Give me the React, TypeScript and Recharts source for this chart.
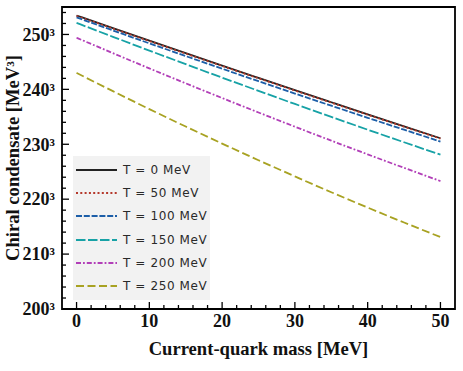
import { LineChart, Line, XAxis, YAxis, ReferenceArea } from "recharts";

// current-quark mass [MeV]
const masses = [0, 5, 10, 15, 20, 25, 30, 35, 40, 45, 50];

// cube root of the chiral condensate [MeV], one array per temperature
const t0 = [253.45, 251.15, 248.86, 246.59, 244.33, 242.09, 239.86, 237.65, 235.45, 233.27, 231.1];
const t50 = [253.38, 251.08, 248.79, 246.52, 244.26, 242.02, 239.79, 237.58, 235.38, 233.2, 231.03];
const t100 = [253.1, 250.73, 248.38, 246.06, 243.76, 241.49, 239.24, 237.02, 234.82, 232.65, 230.5];
const t150 = [252.1, 249.57, 247.06, 244.59, 242.14, 239.73, 237.34, 234.99, 232.66, 230.37, 228.1];
const t200 = [249.4, 246.59, 243.82, 241.1, 238.42, 235.79, 233.2, 230.66, 228.16, 225.71, 223.3];
const t250 = [243.0, 239.67, 236.41, 233.23, 230.13, 227.1, 224.15, 221.27, 218.47, 215.75, 213.1];

const xTicks = [0, 2, 4, 6, 8, 10, 12, 14, 16, 18, 20, 22, 24, 26, 28, 30, 32, 34, 36, 38, 40, 42, 44, 46, 48, 50];
const yTicks = [
  200, 202, 204, 206, 208, 210, 212, 214, 216, 218, 220, 222, 224, 226, 228, 230, 232, 234, 236, 238, 240, 242,
  244, 246, 248, 250, 252, 254,
];

const series = [
  { key: "t0", name: "T = 0 MeV", values: t0, color: "#222222", dash: undefined },
  { key: "t50", name: "T = 50 MeV", values: t50, color: "#b5392c", dash: "2 2.3" },
  { key: "t100", name: "T = 100 MeV", values: t100, color: "#1c5ea8", dash: "6 1.8" },
  { key: "t150", name: "T = 150 MeV", values: t150, color: "#17a2a6", dash: "9.5 2.5" },
  { key: "t200", name: "T = 200 MeV", values: t200, color: "#b23fb8", dash: "5 2 1.8 2" },
  { key: "t250", name: "T = 250 MeV", values: t250, color: "#a8a222", dash: "8 3.5" },
];

const data = masses.map((m, i) => {
  const row: Record<string, number> = { m };
  series.forEach((s) => {
    row[s.key] = s.values[i];
  });
  return row;
});

const serif = "'Liberation Serif', 'Times New Roman', serif";

function XTick({ x, y, payload }: any) {
  const major = payload.value % 10 === 0;
  return (
    <g>
      <line x1={x} x2={x} y1={y} y2={y - (major ? 7 : 4)} stroke="#000" strokeWidth={1.3} />
      {major && (
        <text x={x} y={y + 18} textAnchor="middle" fontFamily={serif} fontWeight="bold" fontSize={18} fill="#111">
          {payload.value}
        </text>
      )}
    </g>
  );
}

function YTick({ x, y, payload }: any) {
  const major = payload.value % 10 === 0;
  return (
    <g>
      <line x1={x} x2={x + (major ? 7 : 4)} y1={y} y2={y} stroke="#000" strokeWidth={1.3} />
      {major && (
        <text x={x - 7} y={y} dy="0.35em" textAnchor="end" fontFamily={serif} fontWeight="bold" fontSize={18} fill="#111">
          {payload.value}³
        </text>
      )}
    </g>
  );
}

function LegendBox() {
  return (
    <div
      style={{
        position: "absolute",
        left: 73,
        top: 156,
        width: 137,
        height: 144,
        background: "#f2f2f2",
        fontFamily: "'DejaVu Sans', sans-serif",
        fontSize: 12,
        letterSpacing: 0.6,
        color: "#2a2a2a",
      }}
    >
      {series.map((s, i) => (
        <div key={s.key} style={{ position: "absolute", left: 3, top: 4 + i * 23.2, height: 20, display: "flex", alignItems: "center" }}>
          <svg width={41} height={6} style={{ display: "block" }}>
            <line x1={0} x2={41} y1={3} y2={3} stroke={s.color} strokeWidth={2} strokeDasharray={s.dash} />
          </svg>
          <span style={{ marginLeft: 6, whiteSpace: "pre" }}>{s.name}</span>
        </div>
      ))}
    </div>
  );
}

export default function App() {
  return (
    <div style={{ position: "absolute", left: 0, top: 0, width: 463, height: 371, background: "#fff" }}>
      <LineChart width={463} height={371} data={data} margin={{ top: 7, right: 8, left: 0, bottom: 0 }}>
        <XAxis
          dataKey="m"
          type="number"
          domain={[-2, 52]}
          ticks={xTicks}
          interval={0}
          tickSize={0}
          tickMargin={0}
          tickLine={false}
          axisLine={false}
          tick={<XTick />}
          height={62}
          allowDataOverflow
          label={{
            value: "Current-quark mass [MeV]",
            position: "insideBottom",
            offset: 16,
            style: { fontFamily: serif, fontWeight: "bold", fontSize: 18.6, fill: "#111" },
          }}
        />
        <YAxis
          type="number"
          domain={[200, 255]}
          ticks={yTicks}
          interval={0}
          tickSize={0}
          tickMargin={0}
          tickLine={false}
          axisLine={false}
          tick={<YTick />}
          width={62}
          allowDataOverflow
          label={{
            value: "Chiral condensate [MeV³]",
            angle: -90,
            position: "insideLeft",
            offset: 12,
            style: { textAnchor: "middle", fontFamily: serif, fontWeight: "bold", fontSize: 18.6, fill: "#111" },
          }}
        />
        <ReferenceArea x1={-2} x2={52} y1={200} y2={255} fill="none" stroke="#000" strokeWidth={1.8} ifOverflow="visible" />
        {series.map((s) => (
          <Line
            key={s.key}
            type="monotone"
            dataKey={s.key}
            name={s.name}
            stroke={s.color}
            strokeWidth={1.8}
            strokeDasharray={s.dash}
            dot={false}
            activeDot={false}
            isAnimationActive={false}
          />
        ))}
      </LineChart>
      <LegendBox />
    </div>
  );
}
